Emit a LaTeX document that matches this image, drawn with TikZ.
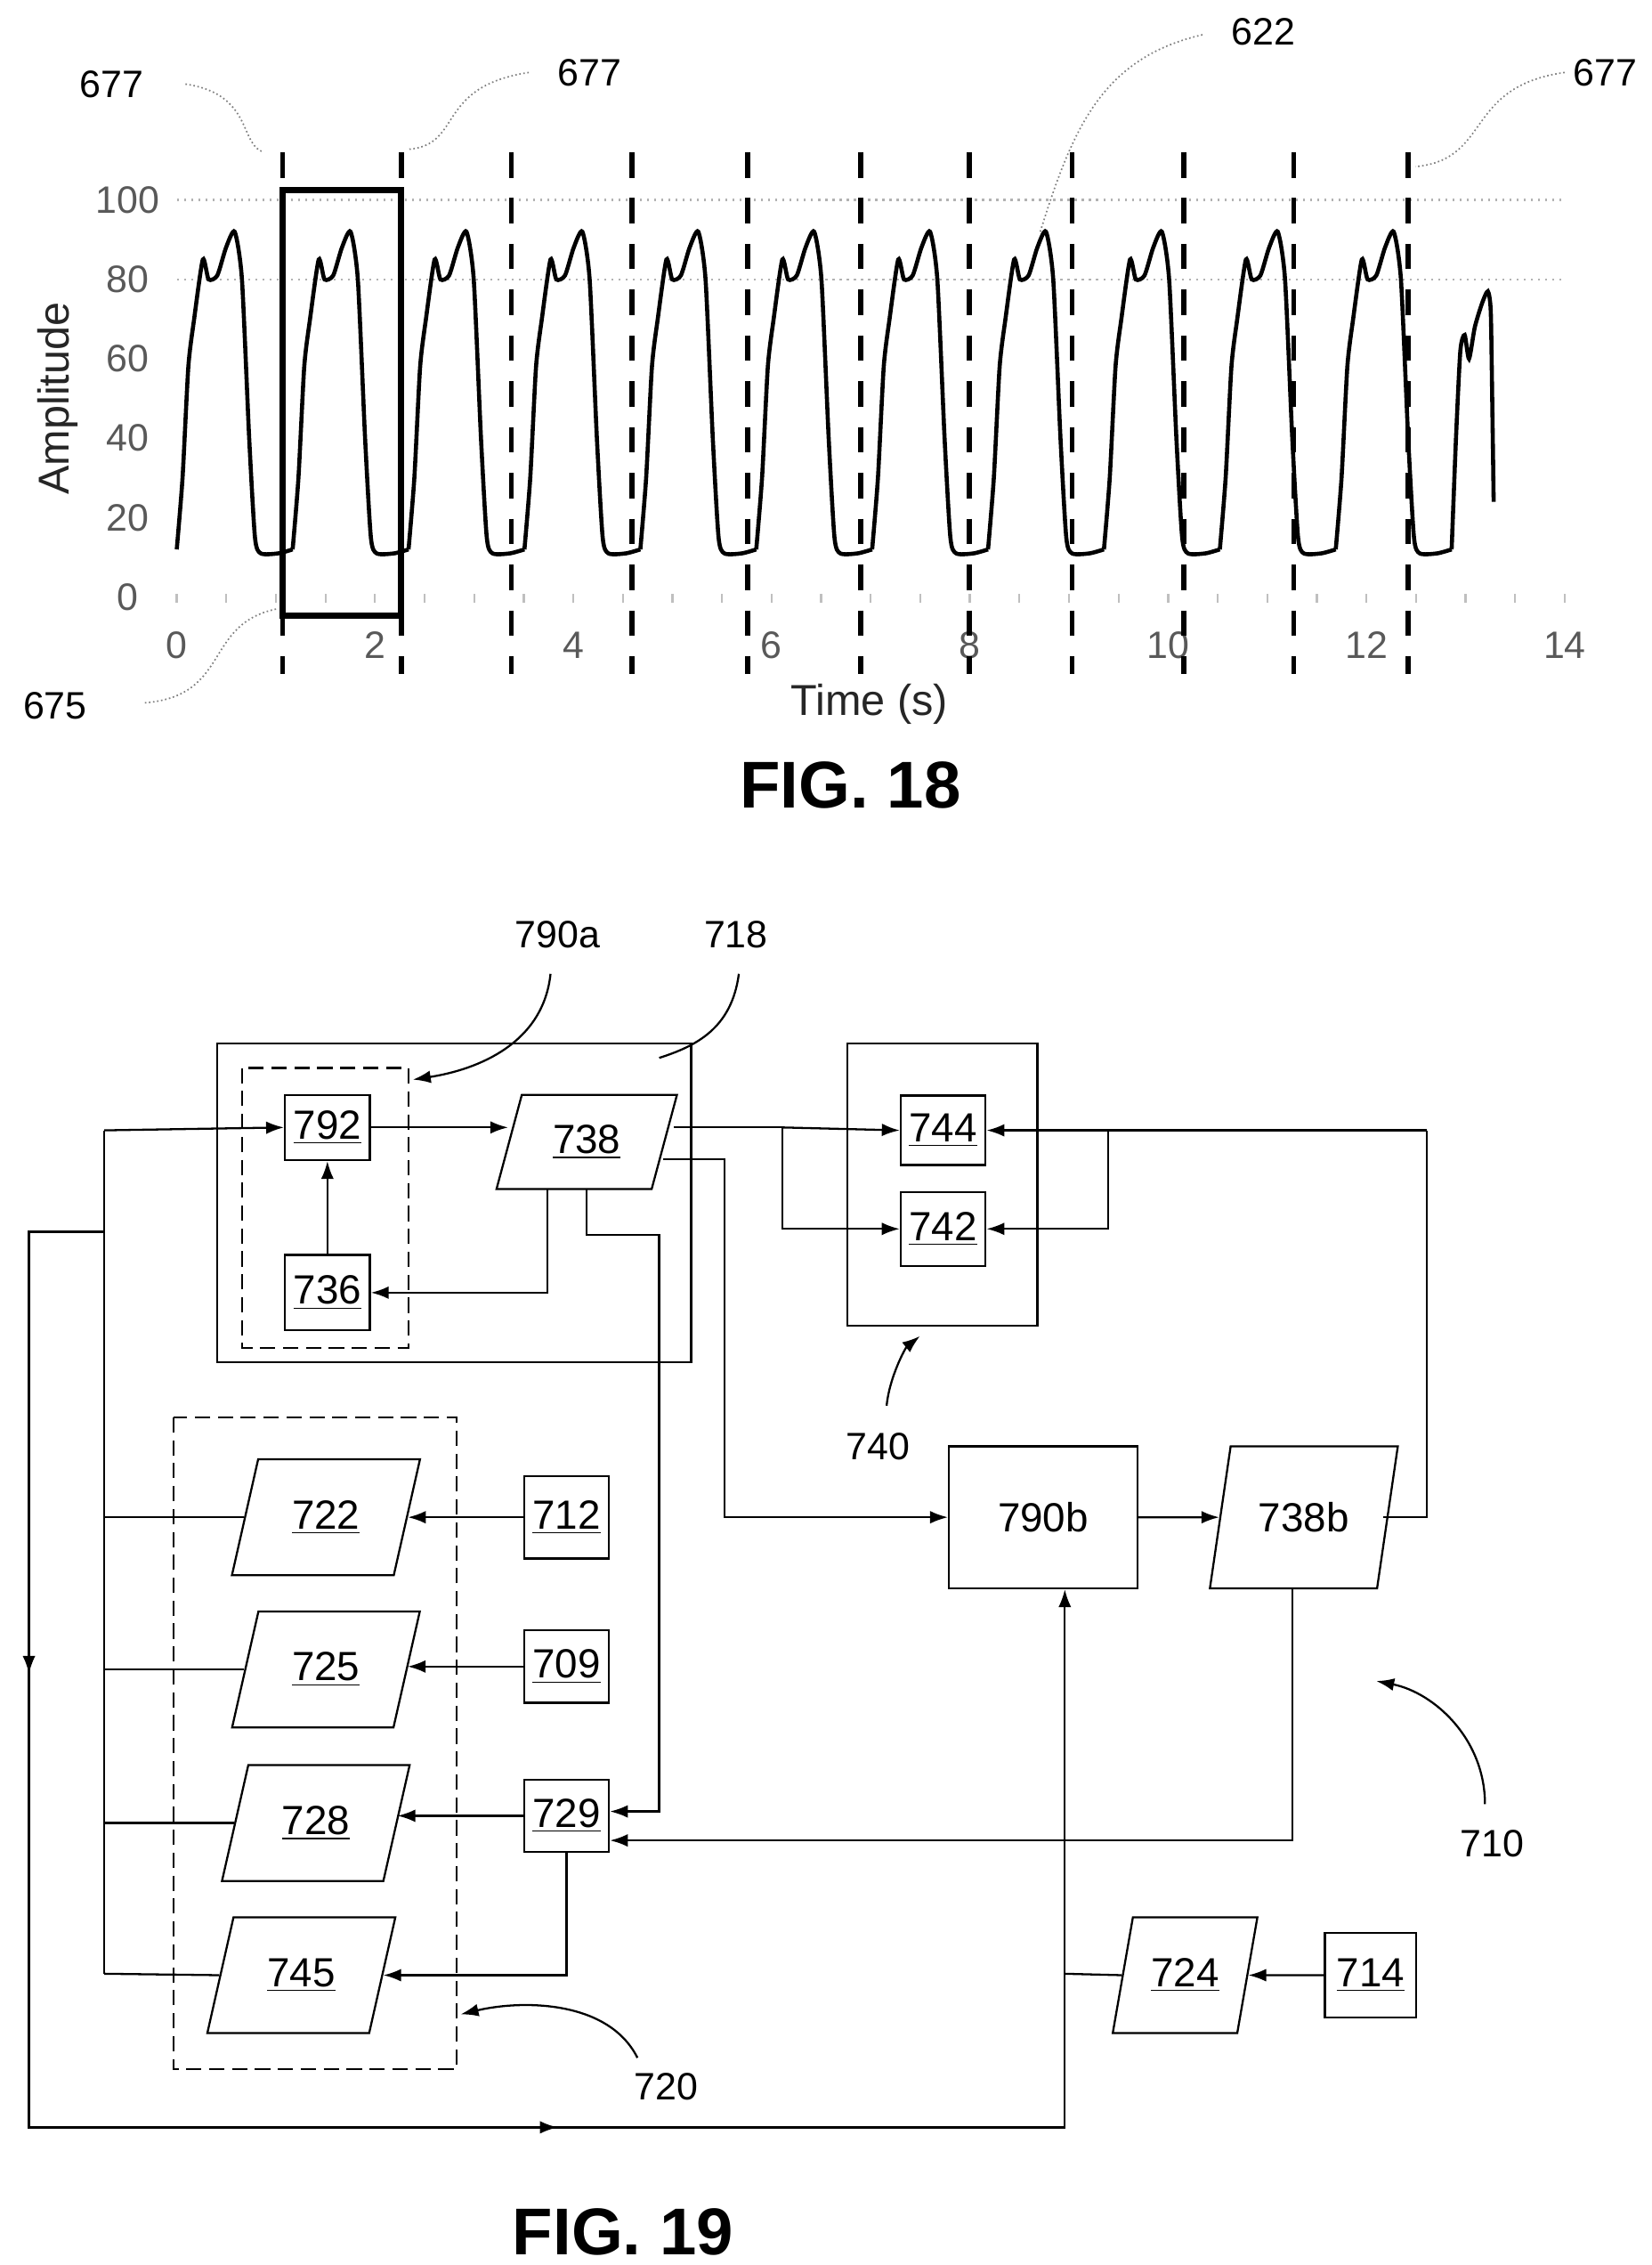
\documentclass[tikz,border=0pt]{standalone}
\usepackage{fontspec}
\setmainfont{Liberation Sans}
\usetikzlibrary{shapes.geometric,arrows.meta}
\begin{document}
\begin{tikzpicture}[x=0.02cm,y=-0.02cm,line width=0.8pt,
    >={Latex[length=7pt,width=5pt]},
    box/.style={draw,rectangle,minimum width=1.16cm,minimum height=0.9cm,font=\fontsize{16}{18}\selectfont},
    para/.style={draw,trapezium,trapezium left angle=72,trapezium right angle=108,
        trapezium stretches=true,minimum width=2.6cm,minimum height=1.6cm,font=\fontsize{16}{18}\selectfont},
    frame/.style={draw,rectangle},
    dframe/.style={draw,rectangle,dash pattern=on 6pt off 3pt},
    lbl/.style={font=\fontsize{15}{17}\selectfont},
    lead/.style={gray,densely dotted,line width=0.6pt},
    sep/.style={line width=2pt,dash pattern=on 10pt off 8pt}]
\useasboundingbox (0,0) rectangle (1140,1563);

% FIG. 18
\foreach \v in {80,100}
    \draw[gray!60,dotted] (122,{412-2.74*\v}) -- (1080,{412-2.74*\v});
\foreach \v in {0,20,...,100}
    \node[lbl,gray!70!black] at (88,{412-2.74*\v}) {\v};
\foreach \t in {0,2,...,14}
    \node[lbl,gray!70!black] at ({122+68.43*\t},445) {\t};
\foreach \t in {0,0.5,...,14}
    \draw[gray!50] ({122+68.43*\t},410) -- ({122+68.43*\t},416);
\node[lbl,rotate=90,font=\fontsize{17}{19}\selectfont,gray!30!black] (amp) at (40,275) {Amplitude};
\node[font=\fontsize{17}{19}\selectfont,gray!30!black] (time) at (600,486) {Time (s)};

\foreach \s in {122,202,282,362,442,522,602,682,762,842,922}
    \draw[line width=1.6pt,shift={(\s,412)},yscale=-2.74]
        plot[smooth,tension=0.4] coordinates {(0,12) (4,30) (8,58) (12,70) (18,85) (22,80) (28,81)
            (34,88) (40,92) (45,80) (50,40) (54,15) (58,11) (70,11) (80,12)};
\draw[line width=1.6pt,shift={(1002,412)},yscale=-2.74]
    plot[smooth,tension=0.4] coordinates {(0,12) (3,40) (6,62) (9,66) (12,60) (16,68)
        (21,74) (25,77) (27,72) (28,50) (29,24)};

\foreach \x in {195,277,353,436,516,594,669,740,817,893,972}
    \draw[sep] (\x,105) -- (\x,465);
\draw[line width=2.4pt] (195,131) rectangle (277,425);

\node[lbl] (l677a) at (77,58) {677};
\node[lbl] (l677b) at (407,50) {677};
\node[lbl] (l677c) at (1108,50) {677};
\node[lbl] (l622) at (872,22) {622};
\node[lbl] (l675) at (38,487) {675};
\draw[lead] (128,58) .. controls (175,65) and (165,100) .. (182,105);
\draw[lead] (365,50) .. controls (300,60) and (320,100) .. (282,103);
\draw[lead] (1080,50) .. controls (1010,60) and (1030,110) .. (977,115);
\draw[lead] (830,24) .. controls (760,40) and (740,90) .. (718,160);
\draw[lead] (100,485) .. controls (160,480) and (140,430) .. (192,420);

\node[font=\fontsize{26}{28}\selectfont\bfseries] (fig18) at (587,542) {FIG. 18};

% FIG. 19
\draw[frame] (150,720) rectangle (477,940);
\draw[dframe] (167,737) rectangle (282,930);
\draw[frame] (585,720) rectangle (716,915);
\draw[dframe] (120,978) rectangle (315,1428);

\node[box] (n792) at (226,778) {\underline{792}};
\node[box,minimum height=1.04cm] (n736) at (226,892) {\underline{736}};
\node[para,minimum width=2.5cm,minimum height=1.3cm] (n738) at (405,788) {\underline{738}};
\node[box,minimum height=0.96cm] (n744) at (651,780) {\underline{744}};
\node[box,minimum height=1.02cm] (n742) at (651,848) {\underline{742}};
\node[frame,minimum width=2.6cm,minimum height=1.96cm,font=\fontsize{16}{18}\selectfont] (n790b) at (720,1047) {790b};
\node[para,minimum height=1.96cm] (n738b) at (900,1047) {738b};
\node[para] (n722) at (225,1047) {\underline{722}};
\node[para] (n725) at (225,1152) {\underline{725}};
\node[para] (n728) at (218,1258) {\underline{728}};
\node[para] (n745) at (208,1363) {\underline{745}};
\node[box,minimum height=1.14cm] (n712) at (391,1047) {\underline{712}};
\node[box,minimum height=1cm] (n709) at (391,1150) {\underline{709}};
\node[box,minimum height=1cm] (n729) at (391,1253) {\underline{729}};
\node[para,minimum width=2cm] (n724) at (818,1363) {\underline{724}};
\node[box,minimum width=1.26cm,minimum height=1.16cm] (n714) at (946,1363) {\underline{714}};

\coordinate (busT) at (72,780);
\coordinate (busB) at (72,1362);
\coordinate (loopA) at (20,850);
\coordinate (loopB) at (20,1468);
\coordinate (loopC) at (735,1468);
\coordinate (join) at (735,1362);

% connectors
\draw (busT) -- (busB);
\draw[->] (busT) -- (n792.west);
\draw (busT |- n722.west) -- (n722.west);
\draw (busT |- n725.west) -- (n725.west);
\draw (busT |- n728.west) -- (n728.west);
\draw (busB) -- (n745.west);
\draw (72,850) -- (loopA) -- (loopB) -- (loopC) -- (join);
\draw[->] (loopA) -- (20,1155);
\draw[->] (loopB) -- (385,1468);
\draw[->] (join) -- (join |- n790b.south);
\draw (n724.west) -- (join);
\draw[->] (n714) -- (n724);
\draw[->] (n792) -- (n738.west |- n792);
\draw[->] (n736) -- (n792);
\draw[->] (378,820) |- (n736.east);
\draw[->] (405,820) |- (455,852) |- (n729.east |- 0,1250);
\draw (465,778) -- (540,778);
\draw[->] (540,778) -- (n744.west);
\draw[->] (540,778) |- (n742.west);
\draw[->] (458,800) -| (500,1047) -- (n790b.west);
\draw[->] (n790b) -- (n738b);
\draw (955,1047) -| (985,780);
\draw[->] (985,780) -- (n744.east);
\draw[->] (765,780) |- (n742.east);
\draw[->] (892,1096) |- (n729.east |- 0,1270);
\draw[->] (n712) -- (n722.east |- n712);
\draw[->] (n709) -- (n725.east |- n709);
\draw[->] (n729.west) -- (n728.east |- n729.west);
\draw[->] (n729.south) |- (n745.east);

% labels
\node[lbl] (l790a) at (385,645) {790a};
\node[lbl] (l718) at (508,645) {718};
\node[lbl] (l740) at (606,998) {740};
\node[lbl] (l720) at (460,1440) {720};
\node[lbl] (l710) at (1030,1272) {710};
\draw[->] (380,672) .. controls (375,720) and (330,738) .. (285,745);
\draw (510,672) .. controls (505,710) and (480,722) .. (455,730);
\draw[->] (612,970) .. controls (614,950) and (625,930) .. (635,922);
\draw[->] (440,1420) .. controls (420,1380) and (360,1380) .. (318,1390);
\draw[->] (1025,1245) .. controls (1025,1200) and (990,1168) .. (950,1160);

\node[font=\fontsize{26}{28}\selectfont\bfseries] (fig19) at (430,1540) {FIG. 19};
\end{tikzpicture}
\end{document}
